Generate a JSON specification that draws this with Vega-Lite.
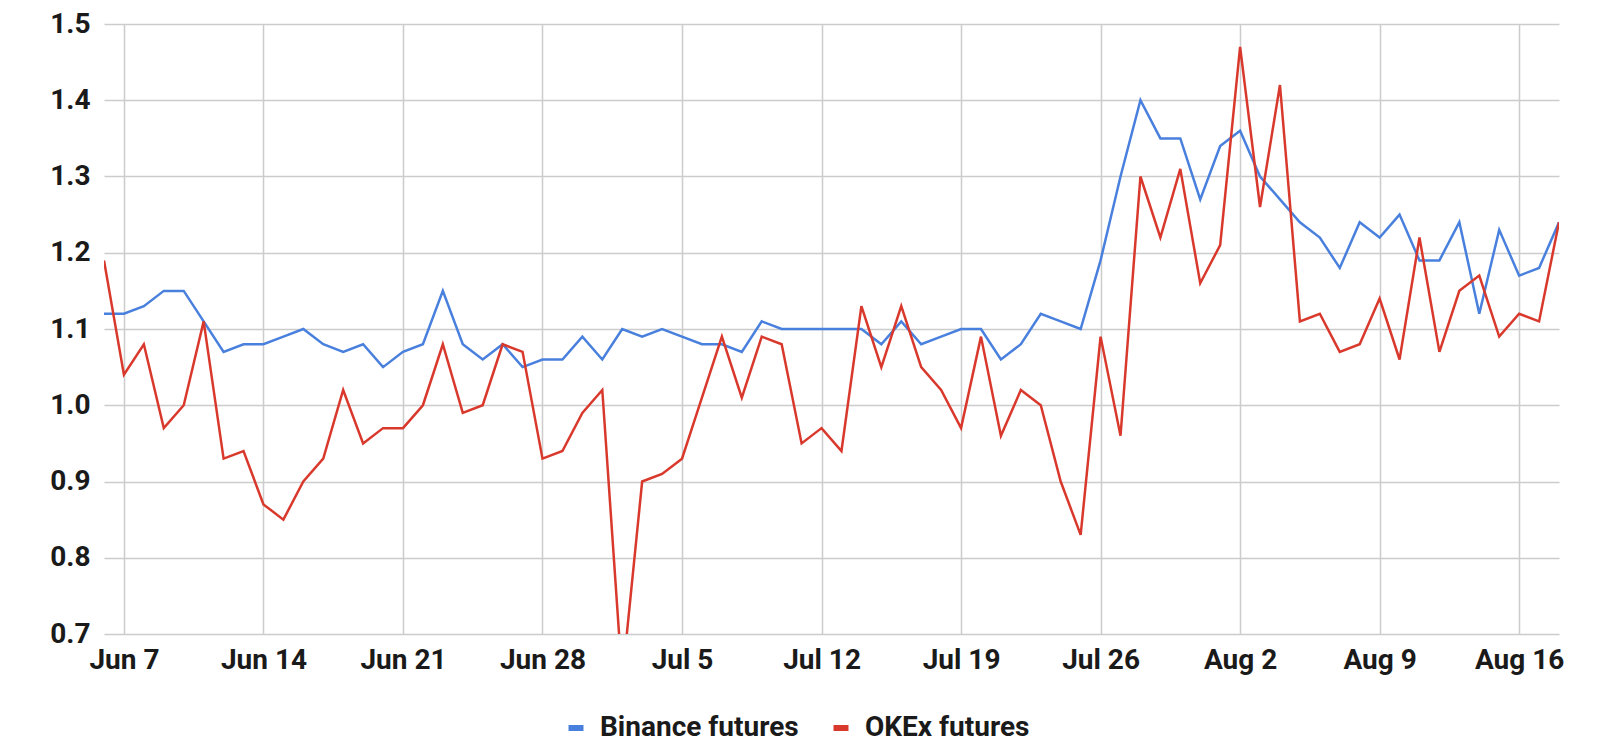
{
  "$schema": "https://vega.github.io/schema/vega-lite/v6.json",
  "width": 1455,
  "height": 610,
  "autosize": {"type": "none"},
  "padding": {"left": 104, "top": 24, "right": 41, "bottom": 113},
  "background": "#ffffff",
  "datasets": {
    "rows": [
      {"date": "2020-06-06", "Binance futures": 1.12, "OKEx futures": 1.19},
      {"date": "2020-06-07", "Binance futures": 1.12, "OKEx futures": 1.04},
      {"date": "2020-06-08", "Binance futures": 1.13, "OKEx futures": 1.08},
      {"date": "2020-06-09", "Binance futures": 1.15, "OKEx futures": 0.97},
      {"date": "2020-06-10", "Binance futures": 1.15, "OKEx futures": 1.00},
      {"date": "2020-06-11", "Binance futures": 1.11, "OKEx futures": 1.11},
      {"date": "2020-06-12", "Binance futures": 1.07, "OKEx futures": 0.93},
      {"date": "2020-06-13", "Binance futures": 1.08, "OKEx futures": 0.94},
      {"date": "2020-06-14", "Binance futures": 1.08, "OKEx futures": 0.87},
      {"date": "2020-06-15", "Binance futures": 1.09, "OKEx futures": 0.85},
      {"date": "2020-06-16", "Binance futures": 1.10, "OKEx futures": 0.90},
      {"date": "2020-06-17", "Binance futures": 1.08, "OKEx futures": 0.93},
      {"date": "2020-06-18", "Binance futures": 1.07, "OKEx futures": 1.02},
      {"date": "2020-06-19", "Binance futures": 1.08, "OKEx futures": 0.95},
      {"date": "2020-06-20", "Binance futures": 1.05, "OKEx futures": 0.97},
      {"date": "2020-06-21", "Binance futures": 1.07, "OKEx futures": 0.97},
      {"date": "2020-06-22", "Binance futures": 1.08, "OKEx futures": 1.00},
      {"date": "2020-06-23", "Binance futures": 1.15, "OKEx futures": 1.08},
      {"date": "2020-06-24", "Binance futures": 1.08, "OKEx futures": 0.99},
      {"date": "2020-06-25", "Binance futures": 1.06, "OKEx futures": 1.00},
      {"date": "2020-06-26", "Binance futures": 1.08, "OKEx futures": 1.08},
      {"date": "2020-06-27", "Binance futures": 1.05, "OKEx futures": 1.07},
      {"date": "2020-06-28", "Binance futures": 1.06, "OKEx futures": 0.93},
      {"date": "2020-06-29", "Binance futures": 1.06, "OKEx futures": 0.94},
      {"date": "2020-06-30", "Binance futures": 1.09, "OKEx futures": 0.99},
      {"date": "2020-07-01", "Binance futures": 1.06, "OKEx futures": 1.02},
      {"date": "2020-07-02", "Binance futures": 1.10, "OKEx futures": 0.64},
      {"date": "2020-07-03", "Binance futures": 1.09, "OKEx futures": 0.90},
      {"date": "2020-07-04", "Binance futures": 1.10, "OKEx futures": 0.91},
      {"date": "2020-07-05", "Binance futures": 1.09, "OKEx futures": 0.93},
      {"date": "2020-07-06", "Binance futures": 1.08, "OKEx futures": 1.01},
      {"date": "2020-07-07", "Binance futures": 1.08, "OKEx futures": 1.09},
      {"date": "2020-07-08", "Binance futures": 1.07, "OKEx futures": 1.01},
      {"date": "2020-07-09", "Binance futures": 1.11, "OKEx futures": 1.09},
      {"date": "2020-07-10", "Binance futures": 1.10, "OKEx futures": 1.08},
      {"date": "2020-07-11", "Binance futures": 1.10, "OKEx futures": 0.95},
      {"date": "2020-07-12", "Binance futures": 1.10, "OKEx futures": 0.97},
      {"date": "2020-07-13", "Binance futures": 1.10, "OKEx futures": 0.94},
      {"date": "2020-07-14", "Binance futures": 1.10, "OKEx futures": 1.13},
      {"date": "2020-07-15", "Binance futures": 1.08, "OKEx futures": 1.05},
      {"date": "2020-07-16", "Binance futures": 1.11, "OKEx futures": 1.13},
      {"date": "2020-07-17", "Binance futures": 1.08, "OKEx futures": 1.05},
      {"date": "2020-07-18", "Binance futures": 1.09, "OKEx futures": 1.02},
      {"date": "2020-07-19", "Binance futures": 1.10, "OKEx futures": 0.97},
      {"date": "2020-07-20", "Binance futures": 1.10, "OKEx futures": 1.09},
      {"date": "2020-07-21", "Binance futures": 1.06, "OKEx futures": 0.96},
      {"date": "2020-07-22", "Binance futures": 1.08, "OKEx futures": 1.02},
      {"date": "2020-07-23", "Binance futures": 1.12, "OKEx futures": 1.00},
      {"date": "2020-07-24", "Binance futures": 1.11, "OKEx futures": 0.90},
      {"date": "2020-07-25", "Binance futures": 1.10, "OKEx futures": 0.83},
      {"date": "2020-07-26", "Binance futures": 1.19, "OKEx futures": 1.09},
      {"date": "2020-07-27", "Binance futures": 1.30, "OKEx futures": 0.96},
      {"date": "2020-07-28", "Binance futures": 1.40, "OKEx futures": 1.30},
      {"date": "2020-07-29", "Binance futures": 1.35, "OKEx futures": 1.22},
      {"date": "2020-07-30", "Binance futures": 1.35, "OKEx futures": 1.31},
      {"date": "2020-07-31", "Binance futures": 1.27, "OKEx futures": 1.16},
      {"date": "2020-08-01", "Binance futures": 1.34, "OKEx futures": 1.21},
      {"date": "2020-08-02", "Binance futures": 1.36, "OKEx futures": 1.47},
      {"date": "2020-08-03", "Binance futures": 1.30, "OKEx futures": 1.26},
      {"date": "2020-08-04", "Binance futures": 1.27, "OKEx futures": 1.42},
      {"date": "2020-08-05", "Binance futures": 1.24, "OKEx futures": 1.11},
      {"date": "2020-08-06", "Binance futures": 1.22, "OKEx futures": 1.12},
      {"date": "2020-08-07", "Binance futures": 1.18, "OKEx futures": 1.07},
      {"date": "2020-08-08", "Binance futures": 1.24, "OKEx futures": 1.08},
      {"date": "2020-08-09", "Binance futures": 1.22, "OKEx futures": 1.14},
      {"date": "2020-08-10", "Binance futures": 1.25, "OKEx futures": 1.06},
      {"date": "2020-08-11", "Binance futures": 1.19, "OKEx futures": 1.22},
      {"date": "2020-08-12", "Binance futures": 1.19, "OKEx futures": 1.07},
      {"date": "2020-08-13", "Binance futures": 1.24, "OKEx futures": 1.15},
      {"date": "2020-08-14", "Binance futures": 1.12, "OKEx futures": 1.17},
      {"date": "2020-08-15", "Binance futures": 1.23, "OKEx futures": 1.09},
      {"date": "2020-08-16", "Binance futures": 1.17, "OKEx futures": 1.12},
      {"date": "2020-08-17", "Binance futures": 1.18, "OKEx futures": 1.11},
      {"date": "2020-08-18", "Binance futures": 1.24, "OKEx futures": 1.24}
    ]
  },
  "data": {"name": "rows"},
  "transform": [
    {"fold": ["Binance futures", "OKEx futures"], "as": ["series", "value"]}
  ],
  "mark": {"type": "line", "strokeWidth": 2.5, "clip": true, "strokeJoin": "miter"},
  "encoding": {
    "x": {
      "field": "date",
      "type": "temporal",
      "scale": {"type": "utc", "nice": false},
      "axis": {
        "title": null,
        "values": [
          {"year": 2020, "month": 6, "date": 7, "utc": true},
          {"year": 2020, "month": 6, "date": 14, "utc": true},
          {"year": 2020, "month": 6, "date": 21, "utc": true},
          {"year": 2020, "month": 6, "date": 28, "utc": true},
          {"year": 2020, "month": 7, "date": 5, "utc": true},
          {"year": 2020, "month": 7, "date": 12, "utc": true},
          {"year": 2020, "month": 7, "date": 19, "utc": true},
          {"year": 2020, "month": 7, "date": 26, "utc": true},
          {"year": 2020, "month": 8, "date": 2, "utc": true},
          {"year": 2020, "month": 8, "date": 9, "utc": true},
          {"year": 2020, "month": 8, "date": 16, "utc": true}
        ],
        "format": "%b %-d",
        "grid": true,
        "ticks": false,
        "domain": false,
        "labelPadding": 12,
        "labelAngle": 0
      }
    },
    "y": {
      "field": "value",
      "type": "quantitative",
      "scale": {"domain": [0.7, 1.5], "nice": false, "zero": false},
      "axis": {
        "title": null,
        "values": [0.7, 0.8, 0.9, 1.0, 1.1, 1.2, 1.3, 1.4, 1.5],
        "format": ".1f",
        "grid": true,
        "ticks": false,
        "domain": false,
        "labelPadding": 14
      }
    },
    "color": {
      "field": "series",
      "type": "nominal",
      "sort": ["Binance futures", "OKEx futures"],
      "scale": {"domain": ["Binance futures", "OKEx futures"], "range": ["#4a80dd", "#d9392c"]},
      "legend": {
        "title": null,
        "orient": "none",
        "direction": "horizontal",
        "legendX": 458,
        "legendY": 690,
        "symbolType": "stroke",
        "symbolStrokeWidth": 6,
        "symbolSize": 225,
        "labelOffset": 10,
        "columnPadding": 22,
        "padding": 0
      }
    }
  },
  "config": {
    "view": {"stroke": null},
    "axis": {
      "labelFont": "Roboto",
      "labelFontSize": 28,
      "labelFontWeight": "bold",
      "labelColor": "#1a1a1a",
      "gridColor": "#cccccc",
      "gridWidth": 1.5
    },
    "legend": {
      "labelFont": "Roboto",
      "labelFontSize": 28,
      "labelFontWeight": "bold",
      "labelColor": "#1a1a1a",
      "labelLimit": 0
    }
  }
}
